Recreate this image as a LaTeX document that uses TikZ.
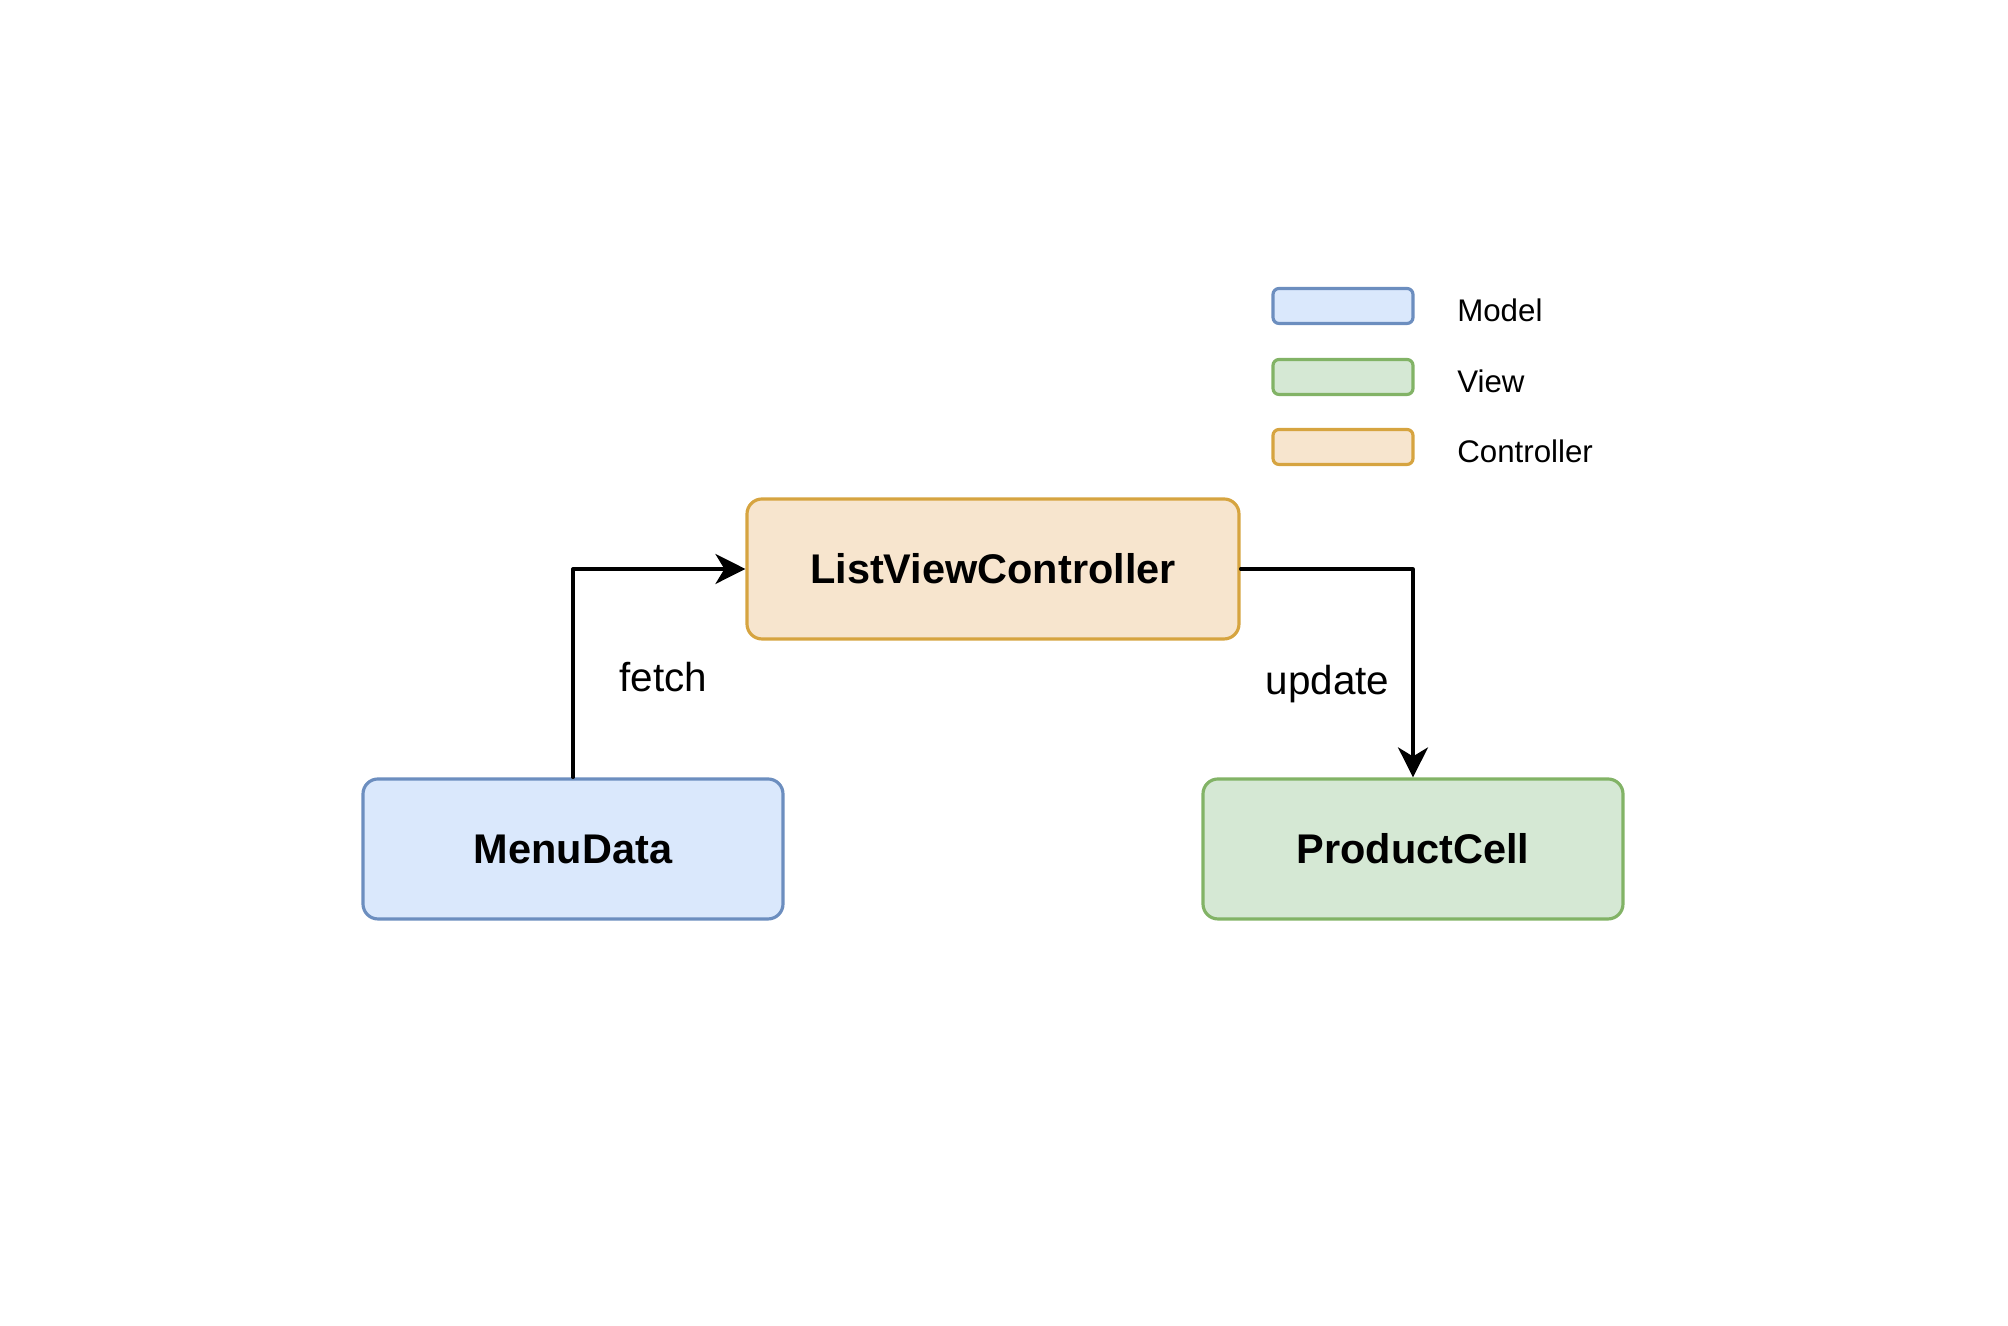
\documentclass[tikz,border=0pt]{standalone}
\usepackage{fontspec}
\setmainfont{Liberation Sans}
\usetikzlibrary{arrows.meta,positioning}
\definecolor{modelfill}{HTML}{DAE8FC}
\definecolor{modeldraw}{HTML}{6C8EBF}
\definecolor{viewfill}{HTML}{D5E8D4}
\definecolor{viewdraw}{HTML}{82B366}
\definecolor{ctrlfill}{HTML}{F7E5CE}
\definecolor{ctrldraw}{HTML}{D6A440}

\begin{document}
\begin{tikzpicture}[>={Stealth[length=3mm,width=3mm,inset=.9mm]},line cap=round,line join=round,
  box/.style={rounded corners=1.5mm,line width=.9pt,minimum width=4.2cm,minimum height=1.4cm,
   font=\fontsize{11.8}{14}\selectfont\bfseries},
  keybox/.style={rounded corners=.6mm,line width=.9pt,minimum width=1.4cm,minimum height=.35cm,inner sep=0pt},
  keytext/.style={right=.42cm of #1,anchor=west,yshift=-.04cm,inner sep=0pt,font=\fontsize{8.9}{11}\selectfont},
  flow/.style={->,line width=.9pt},
  flowlabel/.style={inner sep=0pt,font=\fontsize{11.5}{14}\selectfont}]
 \useasboundingbox (0,0) rectangle (20.08,13.26);
 % main boxes
 \node[box,fill=ctrlfill,draw=ctrldraw,minimum width=4.92cm] (lvc) at (9.93,7.57) {ListViewController};
 \node[box,fill=modelfill,draw=modeldraw] (menu) at (5.73,4.77) {MenuData};
 \node[box,fill=viewfill,draw=viewdraw] (cell) at (14.13,4.77) {ProductCell};
 % connectors
 \draw[flow] (menu.north) |- (lvc.west)
  node[flowlabel,pos=.24,right=.45cm] {fetch};
 \draw[flow] (lvc.east) -| (cell.north)
  node[flowlabel,pos=.775,left=.22cm] {update};
 % legend
 \node[keybox,fill=modelfill,draw=modeldraw] (keymodel) at (13.43,10.20) {};
 \node[keybox,fill=viewfill,draw=viewdraw] (keyview) at (13.43,9.49) {};
 \node[keybox,fill=ctrlfill,draw=ctrldraw] (keyctrl) at (13.43,8.79) {};
 \node[keytext=keymodel] (modeltext) {Model};
 \node[keytext=keyview] (viewtext) {View};
 \node[keytext=keyctrl] (ctrltext) {Controller};
\end{tikzpicture}
\end{document}
